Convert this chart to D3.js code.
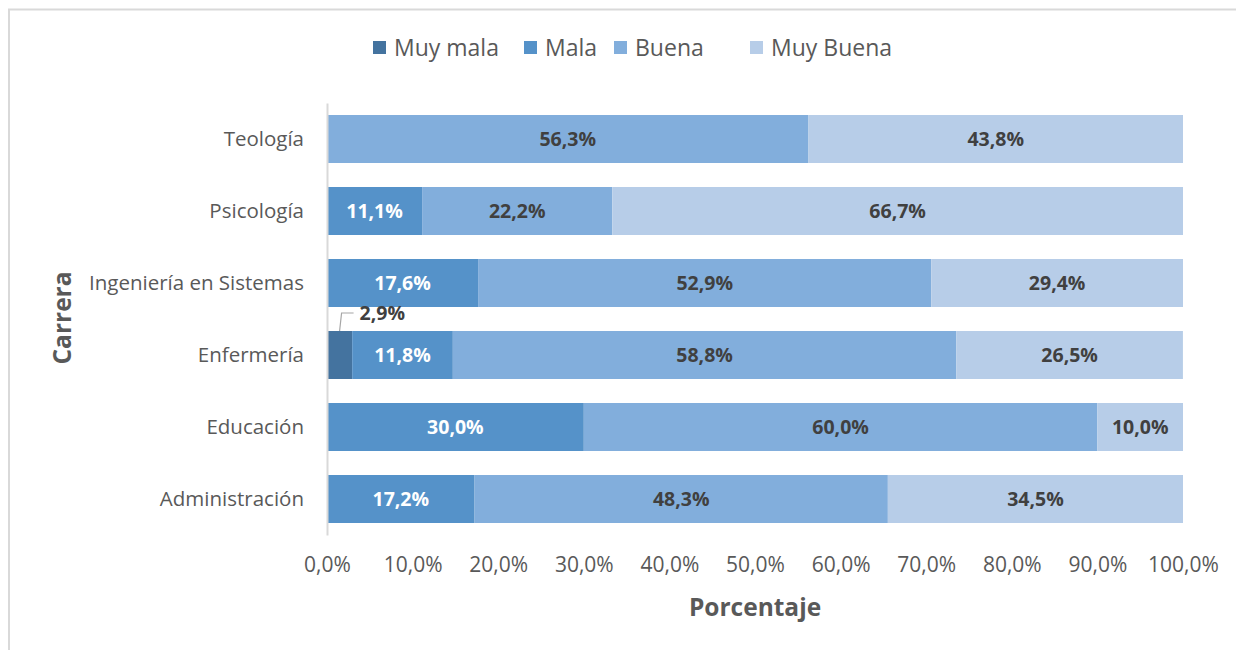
<!DOCTYPE html>
<html>
<head>
<meta charset="utf-8">
<script src="https://cdn.jsdelivr.net/npm/d3@7"></script>
<style>
  body { margin: 0; background: #fff; }
  svg { font-family: "Open Sans", sans-serif; }
</style>
</head>
<body>
<svg width="1236" height="650"></svg>
<script>
// Categories top to bottom
const careers = ['Teología', 'Psicología', 'Ingeniería en Sistemas', 'Enfermería', 'Educación', 'Administración'];
const seriesNames = ['Muy mala', 'Mala', 'Buena', 'Muy Buena'];

// Percent values per series, one per career
const muyMala  = [0,     0,     0,     2.94,  0,  0];
const mala     = [0,     11.11, 17.65, 11.76, 30, 17.24];
const buena    = [56.25, 22.22, 52.94, 58.82, 60, 48.28];
const muyBuena = [43.75, 66.67, 29.41, 26.47, 10, 34.48];

const xTicks = [0, 10, 20, 30, 40, 50, 60, 70, 80, 90, 100];

const colors = ['#44739f', '#5592c9', '#82aedc', '#b7cde8'];
const labelColors = ['#404040', '#ffffff', '#404040', '#404040'];

const rows = careers.map((c, i) => ({
  career: c,
  'Muy mala': muyMala[i],
  'Mala': mala[i],
  'Buena': buena[i],
  'Muy Buena': muyBuena[i]
}));

const svg = d3.select('svg');

// outer frame (left + top edges visible)
svg.append('path')
  .attr('d', 'M9,650 V9.5 H1236')
  .attr('fill', 'none')
  .attr('stroke', '#d9d9d9')
  .attr('stroke-width', 2);

const x = d3.scaleLinear().domain([0, 100]).range([327, 1183]);
const y = d3.scaleBand().domain(careers).range([103, 535]).paddingInner(1 / 3).paddingOuter(1 / 6);

const stacked = d3.stack().keys(seriesNames)(rows);

const fmt = v => v.toFixed(1).replace('.', ',') + '%';

const layers = svg.append('g').selectAll('g')
  .data(stacked)
  .join('g')
    .attr('fill', (d, i) => colors[i]);

layers.selectAll('rect')
  .data(d => d.filter(p => p[1] - p[0] > 0))
  .join('rect')
    .attr('x', d => x(d[0]))
    .attr('y', d => y(d.data.career))
    .attr('width', d => x(d[1]) - x(d[0]))
    .attr('height', y.bandwidth());

// labels
stacked.forEach((s, si) => {
  s.forEach(d => {
    const v = d[1] - d[0];
    if (v <= 0) return;
    const cy = y(d.data.career) + y.bandwidth() / 2;
    if (si === 0) {
      // small segment: label above with leader line
      const bx = x((d[0] + d[1]) / 2);
      const top = y(d.data.career);
      svg.append('path')
        .attr('d', `M${bx},${top} L${bx + 2},${top - 18} H${bx + 14}`)
        .attr('fill', 'none')
        .attr('stroke', '#a6a6a6')
        .attr('stroke-width', 1.2);
      svg.append('text')
        .attr('x', bx + 20)
        .attr('y', top - 18)
        .attr('dy', '0.35em')
        .attr('fill', labelColors[si])
        .attr('font-size', 19.5)
        .attr('font-weight', 'bold')
        .text(fmt(v));
    } else {
      svg.append('text')
        .attr('x', x((d[0] + d[1]) / 2))
        .attr('y', cy)
        .attr('dy', '0.35em')
        .attr('text-anchor', 'middle')
        .attr('fill', labelColors[si])
        .attr('font-size', 19.5)
        .attr('font-weight', 'bold')
        .text(fmt(v));
    }
  });
});

// y axis
const yAxis = svg.append('g')
  .attr('transform', `translate(${x(0)},0)`)
  .call(d3.axisLeft(y).tickSize(0).tickPadding(23));
yAxis.select('.domain').attr('stroke', '#d9d9d9').attr('stroke-width', 2);
yAxis.selectAll('text')
  .attr('font-size', 20.5)
  .attr('fill', '#595959')
  .attr('font-family', '"Open Sans", sans-serif');

// x axis (labels only)
const xAxis = svg.append('g')
  .attr('transform', `translate(0,${y.range()[1]})`)
  .call(d3.axisBottom(x).tickValues(xTicks).tickSize(0).tickPadding(22)
    .tickFormat(d => d.toFixed(1).replace('.', ',') + '%'));
xAxis.select('.domain').remove();
xAxis.selectAll('text')
  .attr('font-size', 21)
  .attr('fill', '#595959')
  .attr('font-family', '"Open Sans", sans-serif');

// axis titles
svg.append('text')
  .attr('x', 755)
  .attr('y', 607)
  .attr('dy', '0.35em')
  .attr('text-anchor', 'middle')
  .attr('fill', '#595959')
  .attr('font-size', 24.5)
  .attr('font-weight', 'bold')
  .text('Porcentaje');

svg.append('text')
  .attr('transform', 'translate(62,318) rotate(-90)')
  .attr('dy', '0.35em')
  .attr('text-anchor', 'middle')
  .attr('fill', '#595959')
  .attr('font-size', 24.5)
  .attr('font-weight', 'bold')
  .text('Carrera');

// legend
const legendX = [373, 524, 614, 750];
const legend = svg.append('g').selectAll('g')
  .data(seriesNames)
  .join('g')
    .attr('transform', (d, i) => `translate(${legendX[i]},48)`);
legend.append('rect')
  .attr('x', 0).attr('y', -7)
  .attr('width', 13).attr('height', 13)
  .attr('fill', (d, i) => colors[i]);
legend.append('text')
  .attr('x', 21)
  .attr('dy', '0.35em')
  .attr('fill', '#595959')
  .attr('font-size', 23)
  .text(d => d);
</script>
</body>
</html>
